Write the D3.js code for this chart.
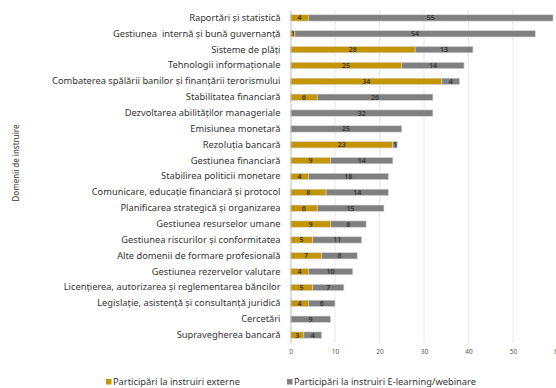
<!DOCTYPE html>
<html><head><meta charset="utf-8">
<script src="https://cdn.jsdelivr.net/npm/d3@7"></script>
<style>body{margin:0;background:#fff}svg{display:block}</style>
</head><body>
<script>
const categories = [
  "Raportări și statistică",
  "Gestiunea  internă și bună guvernanță",
  "Sisteme de plăți",
  "Tehnologii informaționale",
  "Combaterea spălării banilor și finanțării terorismului",
  "Stabilitatea financiară",
  "Dezvoltarea abilităților manageriale",
  "Emisiunea monetară",
  "Rezoluția bancară",
  "Gestiunea financiară",
  "Stabilirea politicii monetare",
  "Comunicare, educație financiară și protocol",
  "Planificarea strategică și organizarea",
  "Gestiunea resurselor umane",
  "Gestiunea riscurilor și conformitatea",
  "Alte domenii de formare profesională",
  "Gestiunea rezervelor valutare",
  "Licențierea, autorizarea și reglementarea băncilor",
  "Legislație, asistență și consultanță juridică",
  "Cercetări",
  "Supravegherea bancară"
];
const externe = [4,1,28,25,34,6,0,0,23,9,4,8,6,9,5,7,4,5,4,0,3];
const elearning = [55,54,13,14,4,26,32,25,1,14,18,14,15,8,11,8,10,7,6,9,4];
const seriesNames = ["Participări la instruiri externe","Participări la instruiri E-learning/webinare"];
const xTicks = [0,10,20,30,40,50,60];
const yTitle = "Domenii de instruire";

const W = 556, H = 388;
const colors = ["#C49500", "#808080"];
const font = "'Noto Sans', 'Open Sans', sans-serif";

const svg = d3.select("body").append("svg").attr("width", W).attr("height", H);

const x = d3.scaleLinear().domain([0, 60]).range([290.5, 557.5]);
const y = d3.scaleBand().domain(categories).range([10, 343]).paddingInner(0.6).paddingOuter(0.3);

// gridlines
svg.append("g").selectAll("line").data(xTicks.slice(1)).join("line")
  .attr("x1", d => x(d)).attr("x2", d => x(d))
  .attr("y1", 10).attr("y2", 343)
  .attr("stroke", "#e8e8e8").attr("stroke-width", 1);

// stacked data
const rows = categories.map((c, i) => ({c, vals: [externe[i], elearning[i]]}));
const stack = d3.stack().keys([0, 1]).value((d, k) => d.vals[k]);
const stacked = stack(rows);

const g = svg.append("g");
stacked.forEach((layer, k) => {
  g.append("g").selectAll("rect").data(layer).join("rect")
    .filter(d => d[1] - d[0] > 0)
    .attr("x", d => x(d[0]))
    .attr("y", d => y(d.data.c))
    .attr("width", d => x(d[1]) - x(d[0]))
    .attr("height", y.bandwidth())
    .attr("fill", colors[k])
    .attr("stroke", "#d6d6d6").attr("stroke-width", 0.6);
  g.append("g").selectAll("text").data(layer.filter(d => d[1] - d[0] > 0)).join("text")
    .attr("x", d => (x(d[0]) + x(d[1])) / 2)
    .attr("y", d => y(d.data.c) + y.bandwidth() / 2)
    .attr("dy", "0.35em")
    .attr("text-anchor", "middle")
    .attr("font-family", font).attr("font-size", 7).attr("font-weight", 600)
    .attr("fill", "#333")
    .text(d => d[1] - d[0]);
});

// y axis
const yAxis = svg.append("g").attr("transform", `translate(${x(0)},0)`)
  .call(d3.axisLeft(y).tickSize(0).tickPadding(10));
yAxis.select(".domain").attr("stroke", "#bfbfbf");
yAxis.selectAll("text").attr("font-family", font).attr("font-size", 9.3).attr("fill", "#333")
  .style("white-space", "pre");

// x axis
const xAxis = svg.append("g").attr("transform", `translate(0,343)`)
  .call(d3.axisBottom(x).tickValues(xTicks).tickSize(0).tickPadding(6));
xAxis.select(".domain").remove();
xAxis.selectAll("text").attr("font-family", font).attr("font-size", 6.5).attr("fill", "#555");

// y title
svg.append("text")
  .attr("transform", "translate(16,163) rotate(-90)")
  .attr("text-anchor", "middle").attr("dy", "0.35em")
  .attr("font-family", font).attr("font-size", 8).attr("fill", "#333")
  .text(yTitle);

// legend
const legX = [106, 287];
const leg = svg.append("g");
seriesNames.forEach((n, i) => {
  leg.append("rect").attr("x", legX[i]).attr("y", 379).attr("width", 5.5).attr("height", 5.5).attr("fill", colors[i]);
  leg.append("text").attr("x", legX[i] + 7).attr("y", 382).attr("dy", "0.35em")
    .attr("font-family", font).attr("font-size", 9.3).attr("fill", "#333").text(n);
});
</script>
</body></html>
